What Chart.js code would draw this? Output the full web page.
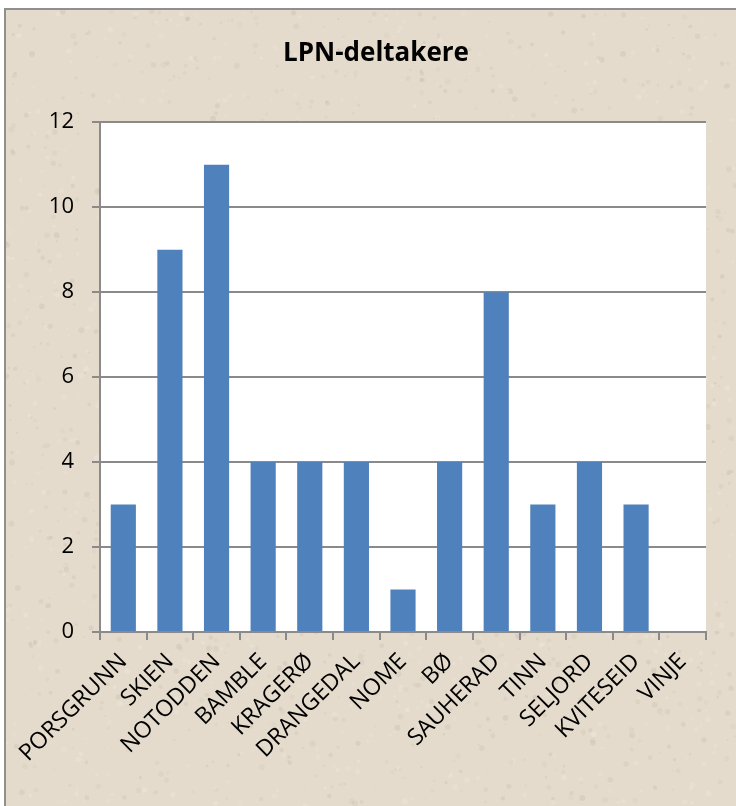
<!DOCTYPE html>
<html>
<head>
<meta charset="utf-8">
<script src="https://cdn.jsdelivr.net/npm/chart.js@4.4.1/dist/chart.umd.min.js"></script>
<style>
  html, body { margin: 0; padding: 0; background: #fff; }
  #wrap { width: 736px; height: 806px; position: relative; }
</style>
</head>
<body>
<div id="wrap"><canvas id="chart"></canvas></div>
<script>
const kommuner = ['PORSGRUNN', 'SKIEN', 'NOTODDEN', 'BAMBLE', 'KRAGERØ', 'DRANGEDAL', 'NOME', 'BØ', 'SAUHERAD', 'TINN', 'SELJORD', 'KVITESEID', 'VINJE'];
const deltakere = [3, 9, 11, 4, 4, 4, 1, 4, 8, 3, 4, 3, 0];
const yTicks = [0, 2, 4, 6, 8, 10, 12];

const gridGray = '#8a8a8a';

// parchment backdrop with a framed edge, plus white plot area
const paper = {
    id: 'paper',
    beforeDraw(chart) {
        const c = chart.ctx;
        const w = chart.width, h = chart.height;
        c.save();
        c.fillStyle = '#ffffff';
        c.fillRect(0, 0, w, h);
        c.fillStyle = '#e4dbcc';
        c.fillRect(5, 9, w - 5, h - 9);
        // speckles
        let seed = 1234567;
        const next = () => { seed = (seed * 16807) % 2147483647; return seed / 2147483647; };
        for (let i = 0; i < 2600; i++) {
            const x = 6 + next() * (w - 6);
            const y = 10 + next() * (h - 10);
            const r = 0.8 + next() * 2.2;
            const dark = next() < 0.55;
            c.fillStyle = dark ? 'rgba(160,145,120,' + (0.05 + next() * 0.1) + ')'
                               : 'rgba(245,240,230,' + (0.1 + next() * 0.2) + ')';
            c.beginPath();
            c.arc(x, y, r, 0, Math.PI * 2);
            c.fill();
        }
        c.strokeStyle = '#8f8f8f';
        c.lineWidth = 2;
        c.beginPath();
        c.moveTo(5, h);
        c.lineTo(5, 9);
        c.lineTo(w, 9);
        c.stroke();
        const a = chart.chartArea;
        c.fillStyle = '#ffffff';
        c.fillRect(a.left, a.top, a.right - a.left, a.bottom - a.top);
        c.restore();
    }
};

const ctx = document.querySelector('#chart').getContext('2d');

new Chart(ctx, {
    type: 'bar',
    data: {
        labels: kommuner,
        datasets: [{
            label: 'LPN-deltakere',
            data: deltakere,
            backgroundColor: '#4f81bd',
            borderWidth: 0,
            barPercentage: 0.54,
            categoryPercentage: 1
        }]
    },
    options: {
        responsive: true,
        maintainAspectRatio: false,
        animation: false,
        layout: { padding: { left: 46, right: 30, top: 0, bottom: 0 } },
        plugins: {
            legend: { display: false },
            tooltip: { enabled: false },
            title: {
                display: true,
                text: 'LPN-deltakere',
                color: '#000',
                font: { family: 'Open Sans', size: 26, weight: 'bold' },
                padding: { top: 38, bottom: 53 }
            }
        },
        scales: {
            x: {
                grid: {
                    drawOnChartArea: false,
                    drawTicks: true,
                    tickLength: 8,
                    color: gridGray,
                    lineWidth: 2
                },
                border: { color: gridGray, width: 2 },
                ticks: {
                    color: '#000',
                    font: { family: 'Open Sans', size: 23 },
                    minRotation: 45,
                    maxRotation: 45,
                    autoSkip: false,
                    padding: 8
                },
                afterFit(scale) {
                    scale.height = 174;
                    // rotated labels may hang past the plot edge
                    scale.paddingLeft = 0;
                    scale.paddingRight = 0;
                }
            },
            y: {
                min: 0,
                max: 12,
                afterBuildTicks(scale) { scale.ticks = yTicks.map(v => ({ value: v })); },
                grid: {
                    color: gridGray,
                    lineWidth: 2,
                    tickLength: 8
                },
                border: { color: gridGray, width: 2 },
                ticks: {
                    color: '#000',
                    font: { family: 'Open Sans', size: 22 },
                    padding: 18
                },
                afterFit(scale) { scale.width = 54; }
            }
        }
    },
    plugins: [paper]
});
</script>
</body>
</html>
